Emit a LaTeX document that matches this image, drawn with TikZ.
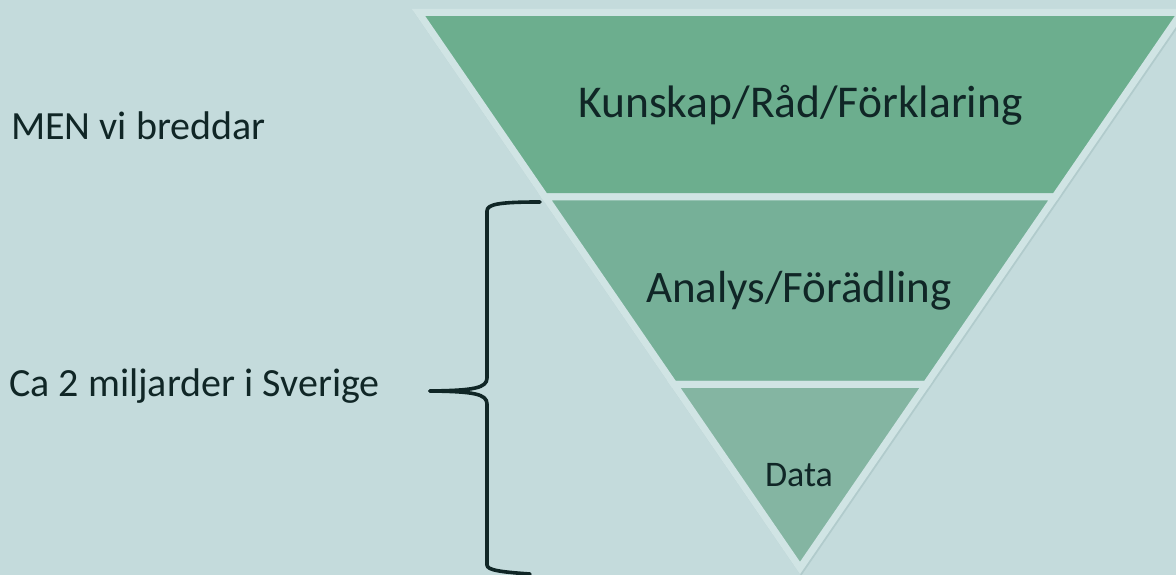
\documentclass[tikz,border=0pt]{standalone}
\usepackage{fontspec}
\setmainfont{Carlito}
\definecolor{bg}{RGB}{196,219,220}
\definecolor{bandA}{RGB}{108,174,142}
\definecolor{bandB}{RGB}{118,176,152}
\definecolor{bandC}{RGB}{132,181,162}
\definecolor{edge}{RGB}{208,228,228}
\definecolor{shadowcol}{RGB}{160,188,189}
\definecolor{ink}{RGB}{16,38,38}
\begin{document}
\begin{tikzpicture}[x=1pt,y=1pt,
  seg/.style={draw=edge,line width=7pt,line join=miter,miter limit=20},
  lbl/.style={inner sep=0pt,text=ink,anchor=base},
  side/.style={inner sep=0pt,text=ink,anchor=base west,font=\fontsize{40}{48}\selectfont},
  bracepath/.style={draw=ink,line width=3.6pt,line cap=round,line join=round}]
\fill[bg] (0,0) rectangle (1176,575);
\useasboundingbox (0,0) rectangle (1176,575);
% coordinates of the segmented funnel
\coordinate (TL) at (418.5,562.5);
\coordinate (TR) at (1181.5,562.5);
\coordinate (ML) at (545.2,378);
\coordinate (MR) at (1054.8,378);
\coordinate (LL) at (674.0,190.5);
\coordinate (LR) at (926.0,190.5);
\coordinate (AP) at (800,7);
% faint shadow
\draw[draw=shadowcol,line width=7pt,line join=miter,miter limit=20,opacity=0.5]
  ([shift={(1.2,-1.6)}]TL) -- ([shift={(1.2,-1.6)}]TR) -- ([shift={(1.2,-1.6)}]AP) -- cycle;
% bands
\path[seg,fill=bandA] (TL) -- (TR) -- (MR) -- (ML) -- cycle;
\path[seg,fill=bandB] (ML) -- (MR) -- (LR) -- (LL) -- cycle;
\path[seg,fill=bandC] (LL) -- (LR) -- (AP) -- cycle;
% labels
\node[lbl,font=\fontsize{45.5}{54}\selectfont] (kun) at (800.5,457) {Kunskap/Råd/Förklaring};
\node[lbl,font=\fontsize{45}{54}\selectfont] (ana) at (799,272) {Analys/Förädling};
\node[lbl,font=\fontsize{36}{42}\selectfont] (dat) at (799,88) {Data};
\node[side] (men) at (11,435) {MEN vi breddar};
\node[side] (ca) at (9,178) {Ca 2 miljarder i Sverige};
% brace
\coordinate (btop) at (540,373);
\coordinate (btip) at (430,184);
\coordinate (bbot) at (530,1);
\draw[bracepath] (btop) .. controls (500,373) and (487,371) .. (487,364)
  -- (487,197) .. controls (487,187) and (474,184.5) .. (btip);
\draw[bracepath] (btip) .. controls (474,183.5) and (487,181) .. (487,171)
  -- (487,10) .. controls (487,5) and (500,3) .. (bbot);
\end{tikzpicture}
\end{document}
